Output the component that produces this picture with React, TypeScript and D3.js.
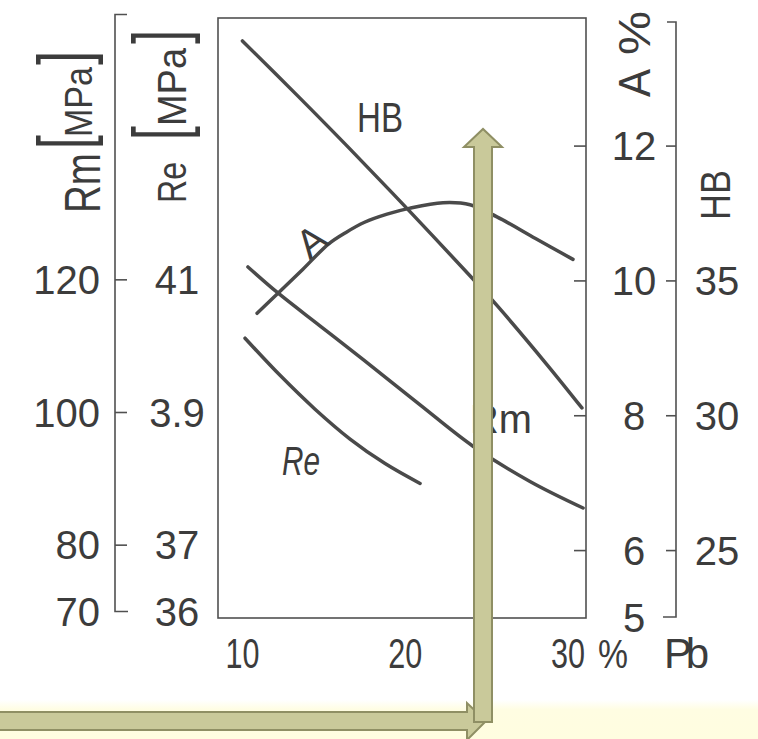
import React from "react";
import * as d3 from "d3";

// ---- data ----
const xTicks = [10, 20, 30];
const xTickLabels = ["10", "20", "30"];

const rmTicks = [70, 80, 100, 120];
const rmTickLabels = ["70", "80", "100", "120"];
const reTicks = [36, 37, 39, 41];
const reTickLabels = ["36", "37", "3.9", "41"];
const aTicks = [5, 6, 8, 10, 12];
const aTickLabels = ["5", "6", "8", "10", "12"];
const hbTicks = [25, 30, 35, 40];
const hbTickLabels = ["25", "30", "35", ""];

const hbX = [10, 13.35, 16.48, 20.29, 24.16, 25.63, 28.7, 30.85];
const hbY = [43.9, 41.89, 39.97, 37.57, 35.07, 34.09, 31.9, 30.29];

const aX = [10.9, 12.2, 13.7, 15.3, 16.36, 17.5, 18.88, 20.29, 22.32, 23.98, 25.63, 28, 30.3];
const aY = [9.52, 9.82, 10.17, 10.55, 10.72, 10.87, 10.99, 11.08, 11.16, 11.13, 10.95, 10.63, 10.32];

const rmX = [10.34, 12.18, 14.76, 17.4, 20.91, 24.16, 27.66, 30.92];
const rmY = [121.94, 118.02, 113.07, 108.02, 101.15, 94.92, 89.6, 85.6];

const reX = [10.16, 12.31, 14.46, 16.61, 18.76, 20.91];
const reY = [40.12, 39.56, 39.05, 38.6, 38.23, 37.93];

const INK = "#3c3c3c";
const FONT = "'Liberation Sans', Arial, sans-serif";

export default function App() {
  const W = 758, H = 739;
  const left = 218, right = 586, top = 18, bottom = 618;

  const x = d3.scaleLinear().domain([8.5, 31.1]).range([left, right]);
  const yRm = d3.scaleLinear().domain([70, 160]).range([611.5, 14.5]);
  const yRe = d3.scaleLinear().domain([36, 45]).range([611.5, 14.5]);
  const yA = d3.scaleLinear().domain([5, 13.9]).range([bottom, top]);
  const yHB = d3.scaleLinear().domain([22.5, 44.75]).range([bottom, top]);

  const mk = (xs: number[], ys: number[], ys2: (v: number) => number) =>
    d3
      .line<number>()
      .x((_, i) => x(xs[i]))
      .y((_, i) => ys2(ys[i]))
      .curve(d3.curveCatmullRom.alpha(0.5))(xs);

  const curveStyle = {
    fill: "none",
    stroke: "#4a4a4a",
    strokeWidth: 3.5,
    strokeLinecap: "round" as const,
  };
  const axisStyle = { stroke: "#505050", strokeWidth: 1.6, fill: "none" };

  const rmAxisX = 115;
  const hbAxisX = 676;

  return (
    <svg
      width={W}
      height={H}
      style={{ position: "absolute", left: 0, top: 0, background: "#fff" }}
      fontFamily={FONT}
    >
      <defs>
        <linearGradient id="band" x1="0" y1="0" x2="0" y2="1">
          <stop offset="0" stopColor="#ffffff" />
          <stop offset="0.25" stopColor="#fffde2" />
          <stop offset="1" stopColor="#fffde0" />
        </linearGradient>
      </defs>
      <rect x={0} y={700} width={W} height={H - 700} fill="url(#band)" />

      {/* frame */}
      <rect x={left} y={top} width={right - left} height={bottom - top} {...axisStyle} />

      {/* Rm axis */}
      <path
        d={`M${rmAxisX + 12},${yRm.range()[1]}H${rmAxisX}V${yRm.range()[0]}H${rmAxisX + 13}`}
        {...axisStyle}
      />
      {rmTicks.slice(1).map((t) => (
        <line key={t} x1={rmAxisX} x2={rmAxisX + 12} y1={yRm(t)} y2={yRm(t)} {...axisStyle} />
      ))}
      {rmTicks.map((t, i) => (
        <text key={t} x={100} y={yRm(t) + 14} textAnchor="end" fontSize={40} fill={INK}>
          {rmTickLabels[i]}
        </text>
      ))}
      {reTicks.map((t, i) => (
        <text key={t} x={177} y={yRe(t) + 14} textAnchor="middle" fontSize={40} fill={INK}>
          {reTickLabels[i]}
        </text>
      ))}

      {/* A axis ticks (inner, on right frame) */}
      {aTicks.slice(1).map((t) => (
        <line key={t} x1={right - 12} x2={right} y1={yA(t)} y2={yA(t)} {...axisStyle} />
      ))}
      {aTicks.map((t, i) => (
        <text key={t} x={634} y={yA(t) + 14} textAnchor="middle" fontSize={40} fill={INK}>
          {aTickLabels[i]}
        </text>
      ))}

      {/* HB axis */}
      <path d={`M${hbAxisX - 9},${22}H${hbAxisX}V${617}H${hbAxisX - 13}`} {...axisStyle} />
      {hbTicks.map((t) => (
        <line key={t} x1={hbAxisX - 10} x2={hbAxisX} y1={yHB(t)} y2={yHB(t)} {...axisStyle} />
      ))}
      {hbTicks.map((t, i) => (
        <text key={t} x={717} y={yHB(t) + 14} textAnchor="middle" fontSize={40} fill={INK}>
          {hbTickLabels[i]}
        </text>
      ))}

      {/* x axis labels */}
      {xTicks.map((t, i) => (
        <text
          key={t}
          x={x(t)}
          y={668}
          textAnchor="middle"
          fontSize={42}
          fill={INK}
          textLength={34}
          lengthAdjust="spacingAndGlyphs"
        >
          {xTickLabels[i]}
        </text>
      ))}
      <text x={598} y={668} fontSize={40} fill={INK} textLength={30} lengthAdjust="spacingAndGlyphs">
        %
      </text>
      <text x={664} y={668} fontSize={42} fill={INK} textLength={45} lengthAdjust="spacing">
        Pb
      </text>

      {/* Rotated axis titles */}
      <g transform="translate(100,213) rotate(-90)" fill={INK}>
        <text x={0} y={0} fontSize={50} textLength={60} lengthAdjust="spacingAndGlyphs">Rm</text>
        <text x={64} y={-12} fontSize={72} textLength={14} lengthAdjust="spacingAndGlyphs">[</text>
        <text x={76} y={-8} fontSize={38} textLength={70} lengthAdjust="spacingAndGlyphs">MPa</text>
        <text x={148} y={-12} fontSize={72} textLength={14} lengthAdjust="spacingAndGlyphs">]</text>
      </g>
      <g transform="translate(186,203) rotate(-90)" fill={INK}>
        <text x={0} y={0} fontSize={40} textLength={41} lengthAdjust="spacingAndGlyphs">Re</text>
        <text x={63} y={-1} fontSize={74} textLength={14} lengthAdjust="spacingAndGlyphs">[</text>
        <text x={77} y={0} fontSize={40} textLength={78} lengthAdjust="spacingAndGlyphs">MPa</text>
        <text x={159} y={-1} fontSize={74} textLength={14} lengthAdjust="spacingAndGlyphs">]</text>
      </g>
      <g transform="translate(650,97) rotate(-90)" fill={INK}>
        <text x={0} y={0} fontSize={44} textLength={28} lengthAdjust="spacingAndGlyphs">A</text>
        <text x={42} y={0} fontSize={44} textLength={44} lengthAdjust="spacingAndGlyphs">%</text>
      </g>
      <g transform="translate(730,220) rotate(-90)" fill={INK}>
        <text x={0} y={0} fontSize={42} textLength={50} lengthAdjust="spacingAndGlyphs">HB</text>
      </g>

      {/* curves */}
      <path d={mk(hbX, hbY, yHB) || ""} {...curveStyle} />
      <path d={mk(aX, aY, yA) || ""} {...curveStyle} />
      <path d={mk(rmX, rmY, yRm) || ""} {...curveStyle} />
      <path d={mk(reX, reY, yRe) || ""} {...curveStyle} />

      {/* curve labels */}
      <text x={357} y={132} fontSize={42} fill={INK} textLength={46} lengthAdjust="spacingAndGlyphs">HB</text>
      <text transform="translate(320,252) rotate(-38)" textAnchor="middle" fontSize={40} fill={INK}>A</text>
      <text x={470} y={433} fontSize={40} fill={INK} textLength={62} lengthAdjust="spacingAndGlyphs">Rm</text>
      <text x={282} y={475} fontSize={40} fontStyle="italic" fill={INK} textLength={38} lengthAdjust="spacingAndGlyphs">Re</text>

      {/* annotation arrows */}
      <polygon
        points="-5,712 467,712 467,703 486,721 467,740 467,730 -5,730"
        fill="#c9c99a"
        stroke="#8f8f64"
        strokeWidth={2}
      />
      <polygon
        points="474,722 474,147 464,147 483,129 502,147 492,147 492,722"
        fill="#c9c99a"
        stroke="#8f8f64"
        strokeWidth={2}
      />
    </svg>
  );
}
